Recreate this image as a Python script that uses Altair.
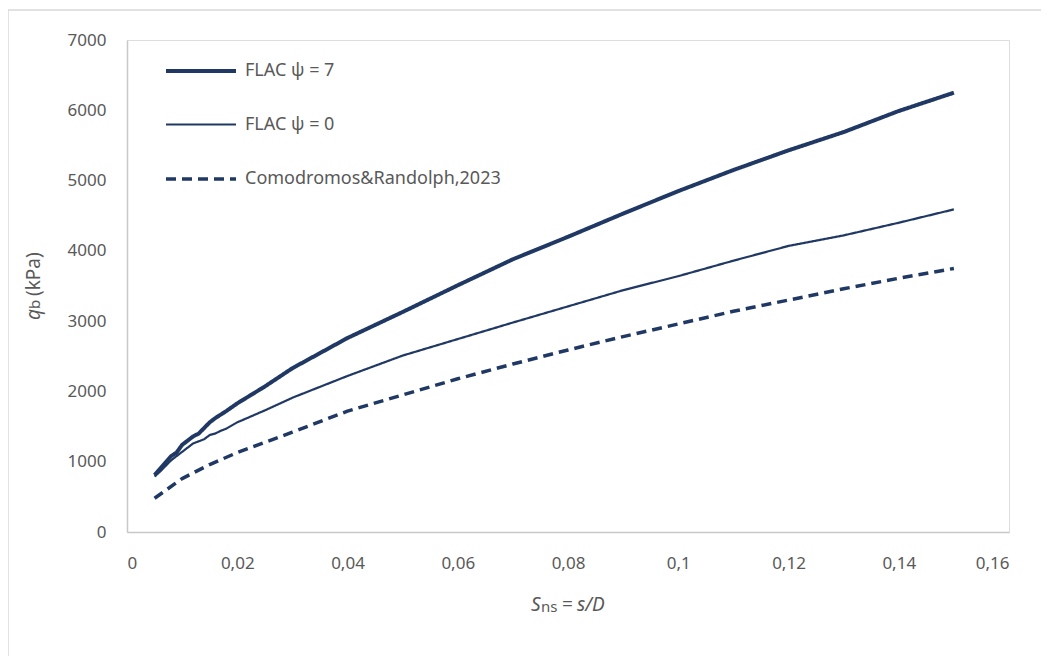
import altair as alt
import pandas as pd

# ---- data ----
series_names = ["FLAC ψ = 7", "FLAC ψ = 0", "Comodromos&Randolph,2023"]

x_psi7 = [0.005, 0.006, 0.007, 0.008, 0.009, 0.010, 0.011, 0.012, 0.013, 0.014, 0.015,
          0.016, 0.018, 0.020, 0.025, 0.030, 0.040, 0.050, 0.060, 0.070, 0.080, 0.090,
          0.100, 0.110, 0.120, 0.130, 0.140, 0.150]
q_psi7 = [810, 900, 990, 1080, 1130, 1240, 1300, 1360, 1400, 1480, 1560,
          1620, 1720, 1830, 2070, 2330, 2760, 3130, 3510, 3880, 4200, 4530,
          4850, 5150, 5430, 5690, 5990, 6250]

x_psi0 = [0.005, 0.006, 0.007, 0.008, 0.009, 0.010, 0.011, 0.012, 0.013, 0.014, 0.015,
          0.016, 0.017, 0.018, 0.020, 0.025, 0.030, 0.040, 0.050, 0.070, 0.090, 0.100,
          0.110, 0.120, 0.130, 0.140, 0.150]
q_psi0 = [790, 860, 940, 1020, 1080, 1140, 1200, 1260, 1290, 1320, 1380,
          1400, 1440, 1470, 1560, 1730, 1910, 2220, 2510, 2980, 3440, 3640,
          3860, 4070, 4220, 4400, 4590]

x_cr = [0.005, 0.010, 0.015, 0.020, 0.030, 0.040, 0.050, 0.060, 0.070, 0.080, 0.090,
        0.100, 0.110, 0.120, 0.130, 0.140, 0.150]
q_cr = [480, 760, 960, 1130, 1420, 1720, 1950, 2180, 2390, 2590, 2780,
        2960, 3140, 3300, 3460, 3610, 3750]

x_ticks = [0, 0.02, 0.04, 0.06, 0.08, 0.10, 0.12, 0.14, 0.16]
y_ticks = [0, 1000, 2000, 3000, 4000, 5000, 6000, 7000]

rows = []
for name, xs, qs in zip(series_names, [x_psi7, x_psi0, x_cr], [q_psi7, q_psi0, q_cr]):
    for i, (a, b) in enumerate(zip(xs, qs)):
        rows.append({"series": name, "s": a, "q": b, "order": i})
df = pd.DataFrame(rows)

NAVY = "#203864"
GRAY_TXT = "#595959"
FONT = "Noto Sans"

W, H = 882, 492

def leg():
    return alt.Legend(title=None, orient="none", legendX=37, legendY=-6,
                      symbolType="stroke", symbolSize=4900, labelLimit=0,
                      labelFontSize=18, labelColor=GRAY_TXT, labelFont=FONT,
                      labelOffset=7, rowPadding=8, padding=0)

lines = alt.Chart(df).mark_line(strokeCap="butt", strokeJoin="round").encode(
    x=alt.X("s:Q", scale=alt.Scale(domain=[0, 0.16], nice=False),
            axis=alt.Axis(values=x_ticks, title=None, grid=False, ticks=False, tickSize=0,
                          labelExpr="replace(format(datum.value, '.2~f'), '.', ',')",
                          labelPadding=23, labelFontSize=17, labelColor=GRAY_TXT,
                          labelFont=FONT, domainColor="#c8c8c8", domainWidth=1.5)),
    y=alt.Y("q:Q", scale=alt.Scale(domain=[0, 7000], nice=False),
            axis=alt.Axis(values=y_ticks, title=None, grid=False, ticks=False, tickSize=0,
                          format="d",
                          labelPadding=21, labelFontSize=17, labelColor=GRAY_TXT,
                          labelFont=FONT, domainColor="#c8c8c8", domainWidth=1.5)),
    color=alt.Color("series:N", scale=alt.Scale(domain=series_names, range=[NAVY, NAVY, NAVY]),
                    legend=leg()),
    strokeDash=alt.StrokeDash("series:N", scale=alt.Scale(domain=series_names,
                                                          range=[[1, 0], [1, 0], [10, 6]]),
                              legend=leg()),
    strokeWidth=alt.StrokeWidth("series:N", scale=alt.Scale(type="ordinal", domain=series_names,
                                                            range=[4, 2.2, 3.5]),
                                legend=leg()),
    order="order:Q",
)

# chart-area border (decoration)
border = alt.Chart(pd.DataFrame({"k": [0]})).mark_rect(
    fill="white", fillOpacity=0, stroke="#d9d9d9", strokeWidth=1.5
).encode(x=alt.value(-119), x2=alt.value(960), y=alt.value(-30), y2=alt.value(700))

# axis titles with mixed styles
one = pd.DataFrame({"k": [0]})
def txt(t, x, y, size=19, style="normal", angle=0, align="left"):
    return alt.Chart(one).mark_text(
        text=t, font=FONT, fontSize=size, fontStyle=style, color=GRAY_TXT,
        align=align, baseline="middle", angle=angle
    ).encode(x=alt.value(x), y=alt.value(y))

x_title = [
    txt("S", 404, 565, 19, "italic"),
    txt("ns", 414, 567, 15),
    txt("=", 435, 565, 19),
    txt("s/D", 450, 565, 19, "italic"),
]
y_title = [
    txt("q", -93, 280, 19, "italic", angle=270),
    txt("b", -92, 269, 15, angle=270),
    txt("(kPa)", -93, 256, 19, angle=270),
]

chart = alt.layer(border, lines, *x_title, *y_title).properties(
    width=W, height=H,
    autosize=alt.AutoSizeParams(type="none"),
    padding={"left": 119, "top": 32, "right": 32, "bottom": 124},
).configure_view(stroke=None).configure(background="white")

chart.save("out.html", embed_options={"renderer": "svg", "actions": False})
